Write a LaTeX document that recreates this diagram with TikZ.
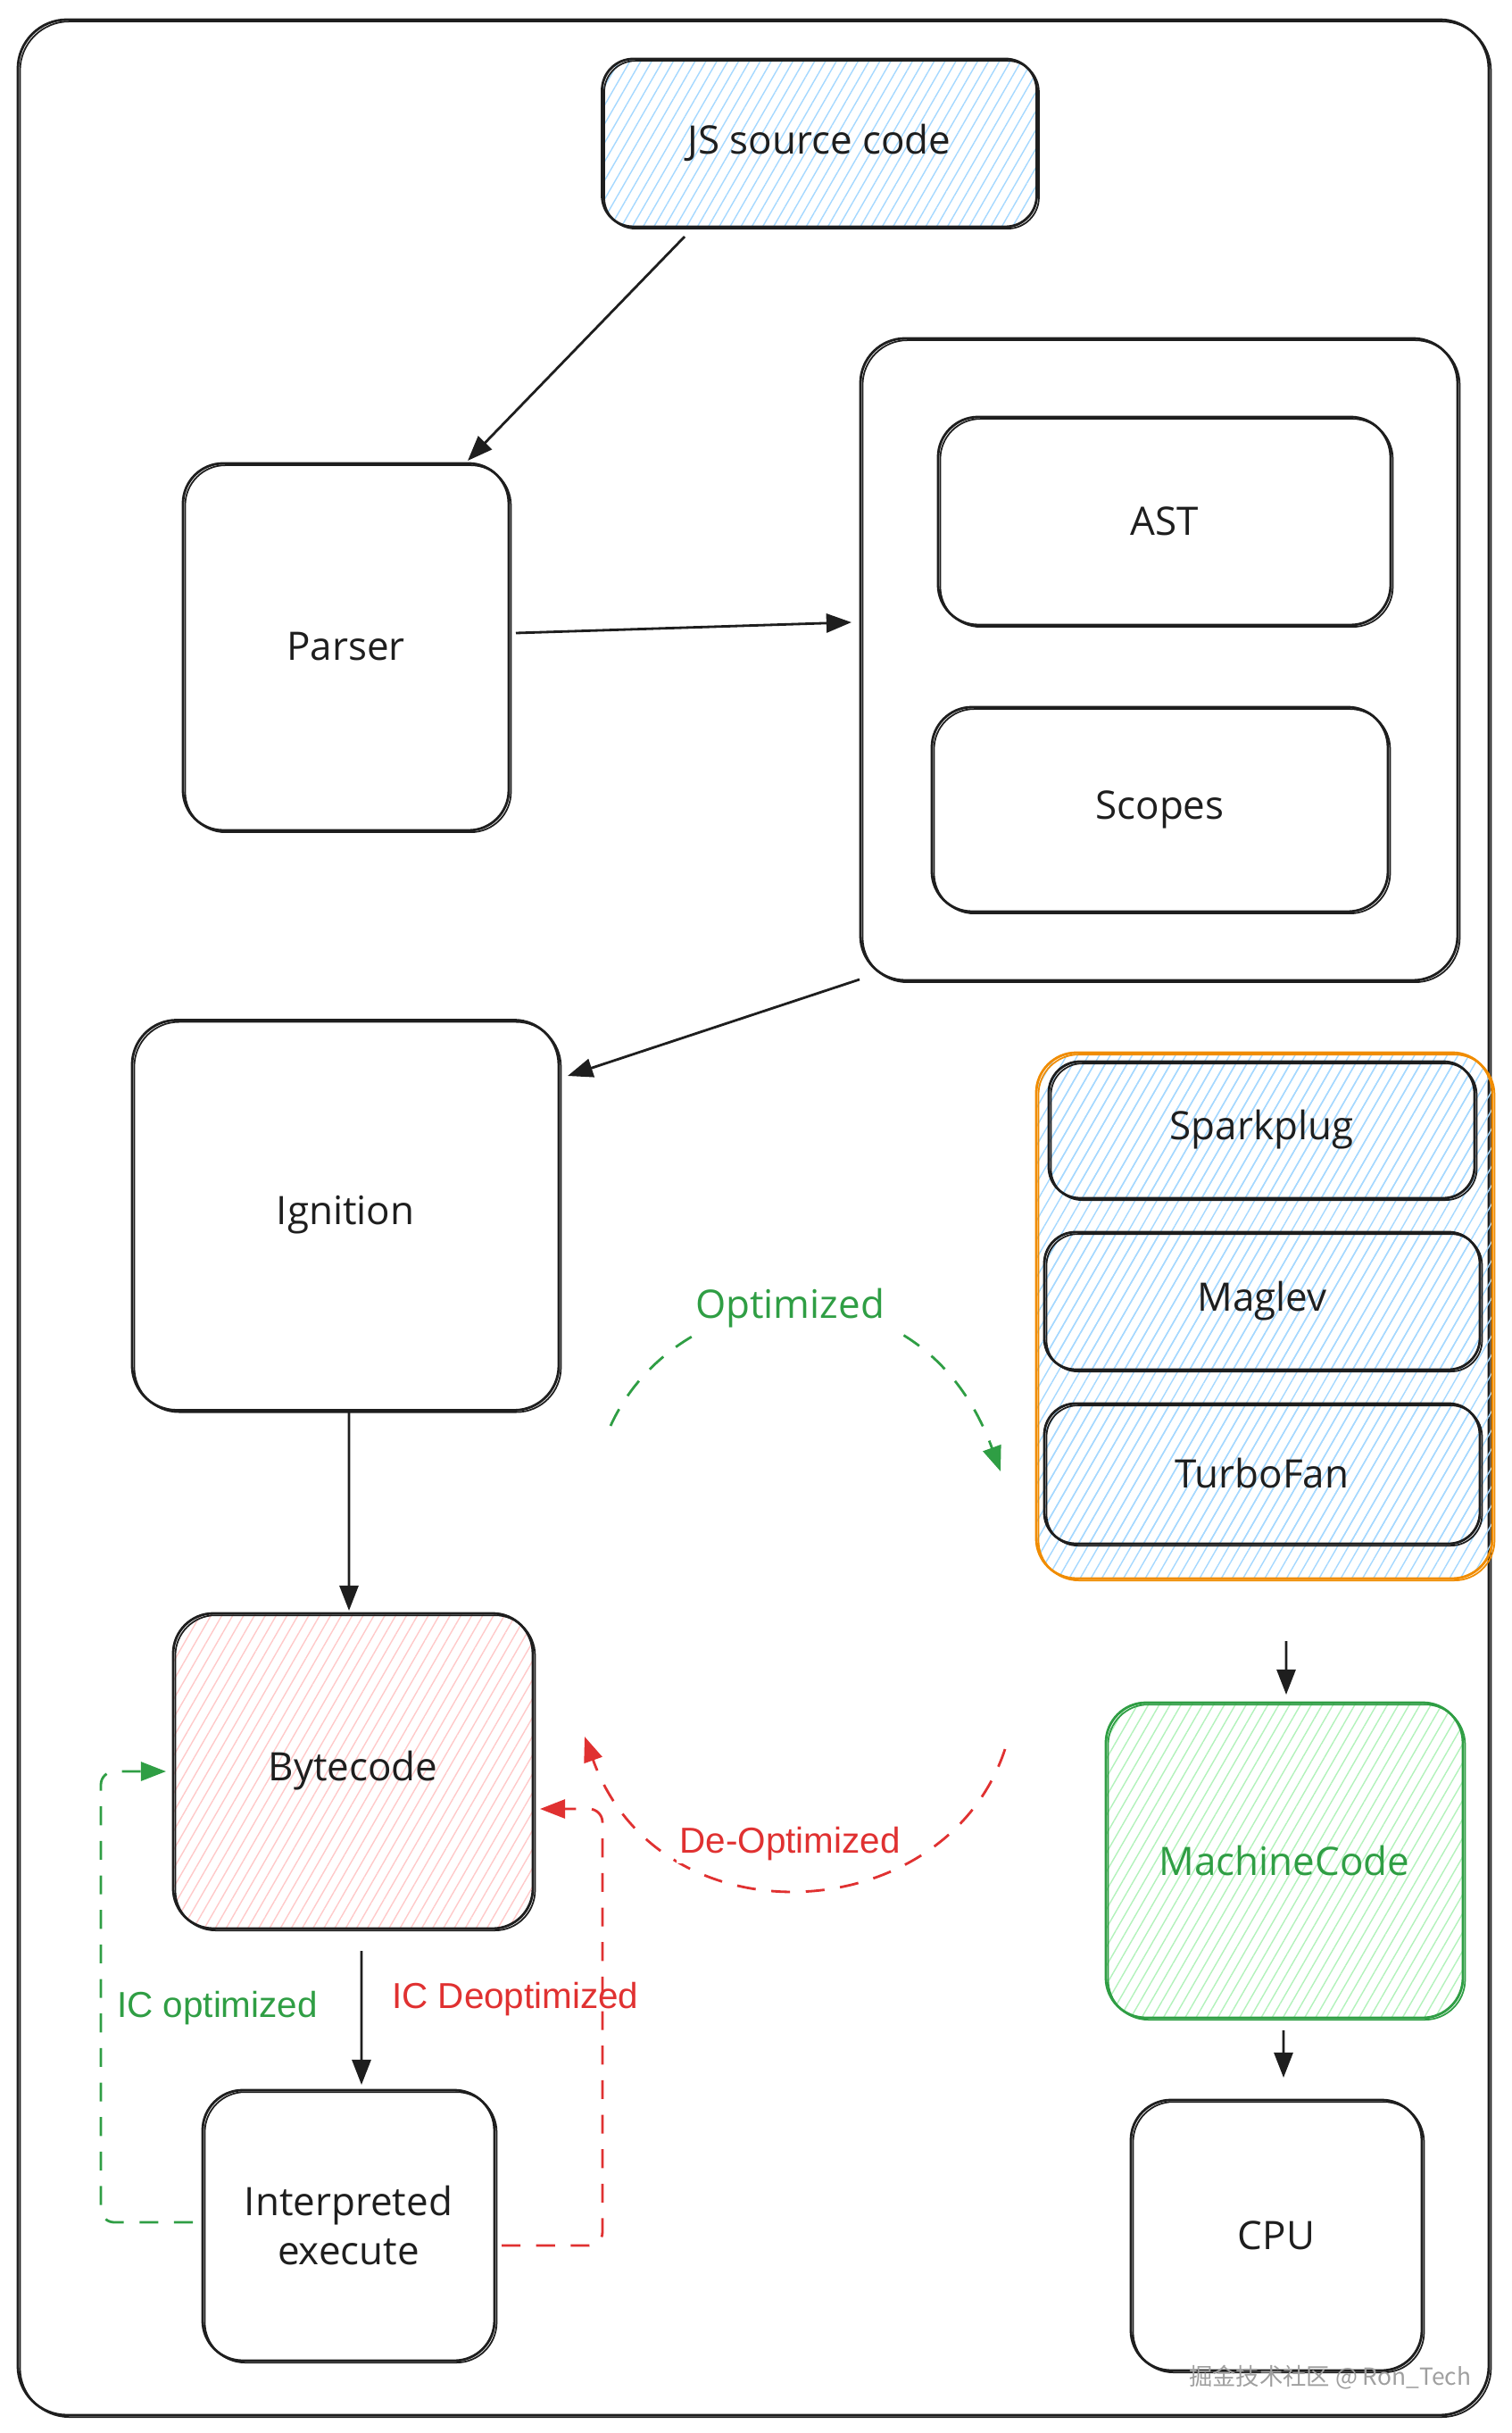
\documentclass[tikz,border=0pt]{standalone}
\usepackage{fontspec}
\setmainfont{Open Sans}
\newfontfamily\hand{Open Sans}
\newfontfamily\lab{Liberation Sans}
\newfontfamily\cjk{Noto Sans CJK SC}
\usetikzlibrary{calc,arrows.meta,patterns.meta}
\definecolor{ink}{HTML}{1E1E1E}
\definecolor{hblue}{HTML}{A5D8FF}
\definecolor{hpink}{HTML}{FFC9C9}
\definecolor{hgreen}{HTML}{B2F2BB}
\definecolor{xgreen}{HTML}{2F9E44}
\definecolor{xred}{HTML}{E03131}
\definecolor{xorange}{HTML}{F08C00}
\tikzset{
  sketch/.style={postaction={draw, line width=0.5pt, transform canvas={shift={(0.7pt,-0.6pt)}}}},
  box/.style={draw=ink, line width=0.8pt, rounded corners=0.45cm, inner sep=0pt, outer sep=0pt,
    font=\hand\fontsize{12.5}{15.5}\selectfont, align=center, text=ink, sketch},
  hatch/.style={pattern={Lines[angle=60,distance=3pt,line width=0.4pt]}, pattern color=#1},
  arr/.style={draw=ink, line width=0.8pt, -{Triangle[length=8pt,width=6pt]}},
  gdash/.style={draw=xgreen, line width=0.8pt, dash pattern=on 6pt off 5pt, -{Triangle[length=8pt,width=6pt]}, rounded corners=0.15cm},
  rdash/.style={draw=xred, line width=0.8pt, dash pattern=on 6pt off 5pt, -{Triangle[length=8pt,width=6pt]}, rounded corners=0.15cm},
  elab/.style={font=\lab\fontsize{11.5}{13}\selectfont, inner sep=1pt},
}
\begin{document}
\begin{tikzpicture}
\useasboundingbox (0,0) rectangle (16.93,-27.25);
% outer frame
\node[box, rounded corners=0.55cm, minimum width=16.48cm, minimum height=26.83cm] (frame) at (8.44,-13.635) {};
% top part
\node[box, rounded corners=0.35cm, hatch=hblue, minimum width=4.87cm, minimum height=1.88cm] (js) at (9.18,-1.60) {JS source code};
\node[box, minimum width=3.65cm, minimum height=4.11cm] (parser) at (3.875,-7.245) {Parser};
\node[box, rounded corners=0.5cm, minimum width=6.69cm, minimum height=7.19cm] (cont) at (12.985,-7.385) {};
\node[box, minimum width=5.07cm, minimum height=2.33cm] (ast) at (13.045,-5.835) {AST};
\node[box, minimum width=5.11cm, minimum height=2.29cm] (scopes) at (12.995,-9.065) {Scopes};
\node[box, rounded corners=0.5cm, minimum width=4.78cm, minimum height=4.37cm] (ign) at (3.87,-13.61) {Ignition};
% compilers
\node[box, draw=xorange, hatch=hblue, minimum width=5.11cm, minimum height=5.89cm] (orange) at (14.165,-14.735) {};
\node[box, rounded corners=0.35cm, hatch=hblue, minimum width=4.77cm, minimum height=1.53cm] (spark) at (14.135,-12.655) {Sparkplug};
\node[box, rounded corners=0.35cm, hatch=hblue, minimum width=4.88cm, minimum height=1.54cm] (maglev) at (14.14,-14.57) {Maglev};
\node[box, rounded corners=0.35cm, hatch=hblue, minimum width=4.88cm, minimum height=1.57cm] (turbo) at (14.14,-16.505) {TurboFan};
% bottom
\node[box, hatch=hpink, minimum width=4.03cm, minimum height=3.53cm] (byte) at (3.955,-19.835) {Bytecode};
\node[box, draw=xgreen, text=xgreen, hatch=hgreen, minimum width=4.0cm, minimum height=3.53cm] (mc) at (14.39,-20.835) {MachineCode};
\node[box, minimum width=3.27cm, minimum height=3.03cm] (interp) at (3.905,-24.925) {Interpreted\\execute};
\node[box, minimum width=3.26cm, minimum height=3.03cm] (cpu) at (14.30,-25.035) {CPU};
% solid arrows
\draw[arr] ($(js.south)+(-1.51,-0.11)$) -- ($(parser.north east)+(-0.46,0.03)$);
\draw[arr] ($(parser.east)+(0.08,0.155)$) -- ($(cont.west)+(-0.10,0.415)$);
\draw[arr] ($(cont.south west)+(-0.01,0.01)$) -- ($(ign.north east)+(0.10,-0.625)$);
\draw[arr] ($(ign.south)+(0.04,0)$) -- ($(byte.north)+(-0.045,0.03)$);
\draw[arr] ($(byte.south)+(0.095,-0.25)$) -- ($(interp.north)+(0.145,0.06)$);
\draw[arr] ($(orange.south)+(0.245,-0.70)$) -- ($(mc.north)+(0.02,0.09)$);
\draw[arr] ($(mc.south)+(-0.01,-0.14)$) -- ($(cpu.north)+(0.08,0.25)$);
% optimized
\coordinate (o1) at ($(ign.south east)+(0.58,-0.175)$);
\coordinate (o2) at ($(turbo.west)+(-0.49,0.025)$);
\draw[gdash] (o1) .. controls (7.6,-14.3) and (10.3,-14.0) .. (o2);
\node[font=\hand\fontsize{12.5}{15}\selectfont, text=xgreen, fill=white, inner sep=2pt] (optlbl) at (8.85,-14.65) {Optimized};
% de-optimized
\coordinate (d1) at ($(mc.west)+(-1.13,1.245)$);
\coordinate (d2) at ($(byte.east)+(0.58,0.385)$);
\draw[rdash] (d1) .. controls (10.6,-21.6) and (7.4,-21.8) .. (d2);
\node[elab, text=xred, fill=white] (deolbl) at (8.85,-20.65) {De-Optimized};
% IC loops
\draw[gdash] ($(interp.west)+(-0.11,0.035)$) -- ++(-1.03,0) |- ($(byte.west)+(-0.08,-0.005)$);
\node[elab, text=xgreen, anchor=west] (icolbl) at (1.27,-22.49) {IC optimized};
\draw[rdash] ($(interp.east)+(0.08,-0.225)$) -- ++(1.13,0) |- ($(byte.east)+(0.08,-0.425)$);
\node[elab, text=xred, anchor=west] (icdlbl) at (4.35,-22.39) {IC Deoptimized};
% watermark
\node[font=\cjk\fontsize{7.5}{9}\selectfont, text=gray!75, inner sep=0pt] (wm) at (14.90,-26.63) {掘金技术社区 @ Ron\_Tech};
\end{tikzpicture}
\end{document}
